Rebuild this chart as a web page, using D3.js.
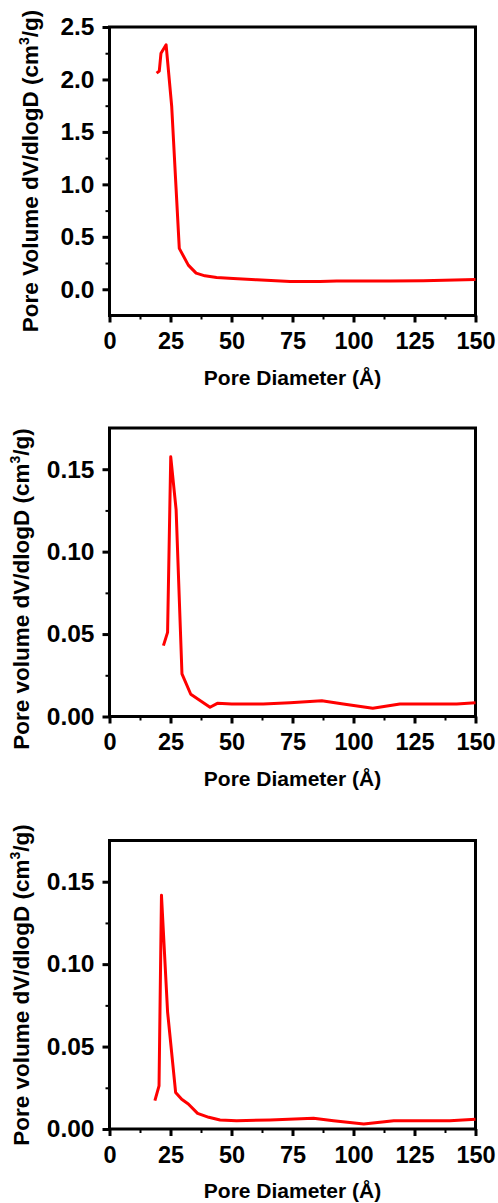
<!DOCTYPE html>
<html>
<head>
<meta charset="utf-8">
<script src="https://cdn.jsdelivr.net/npm/d3@7"></script>
<style>
  html, body { margin: 0; padding: 0; background: #fff; }
  svg text { font-family: 'Liberation Sans', Arial, sans-serif; font-weight: bold; fill: #000; }
</style>
</head>
<body>
<svg id="chart" width="498" height="1203"></svg>
<script>
// panel 1 - pore size distribution
const poreX1 = [19.3, 20.4, 21.1, 23.2, 25.5, 28.6, 32.3, 35.5, 39.1, 43.9, 50.7, 60.3, 74, 86.3, 93.1, 115, 128.6, 150];
const poreY1 = [2.06, 2.08, 2.25, 2.33, 1.74, 0.39, 0.23, 0.154, 0.128, 0.113, 0.103, 0.09, 0.075, 0.075, 0.08, 0.08, 0.082, 0.092];

// panel 2
const poreX2 = [22.1, 23.8, 25.1, 27.3, 29.7, 33.3, 41.2, 44.2, 50.1, 63, 74, 87, 95.8, 107.9, 119, 142.3, 150];
const poreY2 = [0.043, 0.051, 0.1575, 0.1255, 0.0258, 0.0135, 0.0056, 0.008, 0.0076, 0.0076, 0.0084, 0.0096, 0.0076, 0.005, 0.0076, 0.0076, 0.0084];

// panel 3
const poreX3 = [18.6, 20.3, 21.3, 23.8, 27.1, 29.6, 32.3, 36.1, 40.7, 45.3, 52.1, 65.8, 83.6, 91.8, 104.2, 116.5, 139.5, 150];
const poreY3 = [0.0172, 0.0262, 0.1418, 0.0711, 0.0222, 0.018, 0.0152, 0.0095, 0.0071, 0.0055, 0.005, 0.0055, 0.0065, 0.005, 0.003, 0.005, 0.005, 0.0059];

const xTicks = [0, 25, 50, 75, 100, 125, 150];
const xMinor = [12.5, 37.5, 62.5, 87.5, 112.5, 137.5];
const yTicks1 = [0, 0.5, 1.0, 1.5, 2.0, 2.5];
const yMinor1 = [0.25, 0.75, 1.25, 1.75, 2.25];
const yTicks23 = [0, 0.05, 0.10, 0.15];
const yMinor23 = [0.025, 0.075, 0.125];

const svg = d3.select('#chart');
const left = 109.5, right = 475.5;

const panels = [
  { xs: poreX1, ys: poreY1, top: 27, bottom: 315.5, yDomain: [-0.25, 2.5],
    yTicks: yTicks1, yMinor: yMinor1, fmt: d3.format('.1f'),
    title: 'Pore Volume dV/dlogD (cm', titleX: 37.5, titleY: 171 },
  { xs: poreX2, ys: poreY2, top: 428, bottom: 716.5, yDomain: [0, 0.175],
    yTicks: yTicks23, yMinor: yMinor23, fmt: d3.format('.2f'),
    title: 'Pore volume dV/dlogD (cm', titleX: 28.5, titleY: 589 },
  { xs: poreX3, ys: poreY3, top: 840.5, bottom: 1129, yDomain: [0, 0.175],
    yTicks: yTicks23, yMinor: yMinor23, fmt: d3.format('.2f'),
    title: 'Pore volume dV/dlogD (cm', titleX: 28.5, titleY: 985 },
];

panels.forEach(p => {
  const x = d3.scaleLinear().domain([0, 150]).range([left, right]);
  const y = d3.scaleLinear().domain(p.yDomain).range([p.bottom, p.top]);
  const g = svg.append('g').attr('class', 'panel');

  // minor ticks
  const xMinorAxis = g.append('g')
    .attr('transform', `translate(0, ${p.bottom})`)
    .call(d3.axisBottom(x).tickValues(xMinor).tickSize(4).tickFormat(''));
  const yMinorAxis = g.append('g')
    .attr('transform', `translate(${left}, 0)`)
    .call(d3.axisLeft(y).tickValues(p.yMinor).tickSize(4).tickFormat(''));
  [xMinorAxis, yMinorAxis].forEach(a => {
    a.select('.domain').remove();
    a.selectAll('line').attr('stroke', '#000').attr('stroke-width', 2);
  });

  // major ticks
  const xAxis = g.append('g')
    .attr('class', 'axis--x')
    .attr('transform', `translate(0, ${p.bottom})`)
    .call(d3.axisBottom(x).tickValues(xTicks).tickSize(7).tickPadding(10));
  const yAxis = g.append('g')
    .attr('class', 'axis--y')
    .attr('transform', `translate(${left}, 0)`)
    .call(d3.axisLeft(y).tickValues(p.yTicks).tickSize(7).tickPadding(8).tickFormat(p.fmt));
  [xAxis, yAxis].forEach(a => {
    a.select('.domain').remove();
    a.selectAll('line').attr('stroke', '#000').attr('stroke-width', 3);
    a.selectAll('text')
      .attr('font-family', "'Liberation Sans', Arial, sans-serif")
      .attr('font-weight', 'bold')
      .attr('fill', '#000');
  });
  xAxis.selectAll('text').attr('font-size', 23.5);
  yAxis.selectAll('text').attr('font-size', 24.5);

  // frame
  g.append('rect')
    .attr('x', left).attr('y', p.top)
    .attr('width', right - left).attr('height', p.bottom - p.top)
    .attr('fill', 'none').attr('stroke', '#000').attr('stroke-width', 3);

  // curve
  const pts = p.xs.map((d, i) => ({ x: d, y: p.ys[i] }));
  g.append('path')
    .datum(pts)
    .attr('fill', 'none')
    .attr('stroke', '#ff0000')
    .attr('stroke-width', 3)
    .attr('stroke-linejoin', 'round')
    .attr('d', d3.line().x(d => x(d.x)).y(d => y(d.y)));

  // axis titles
  g.append('text')
    .attr('x', (left + right) / 2)
    .attr('y', p.bottom + 69)
    .attr('text-anchor', 'middle')
    .attr('font-size', 21)
    .text('Pore Diameter (Å)');

  const yt = g.append('text')
    .attr('transform', `translate(${p.titleX}, ${p.titleY}) rotate(-90)`)
    .attr('text-anchor', 'middle')
    .attr('font-size', 22.5);
  yt.append('tspan').text(p.title);
  yt.append('tspan').attr('font-size', 14).attr('dy', -9).text('3');
  yt.append('tspan').attr('dy', 9).text('/g)');
});
</script>
</body>
</html>
